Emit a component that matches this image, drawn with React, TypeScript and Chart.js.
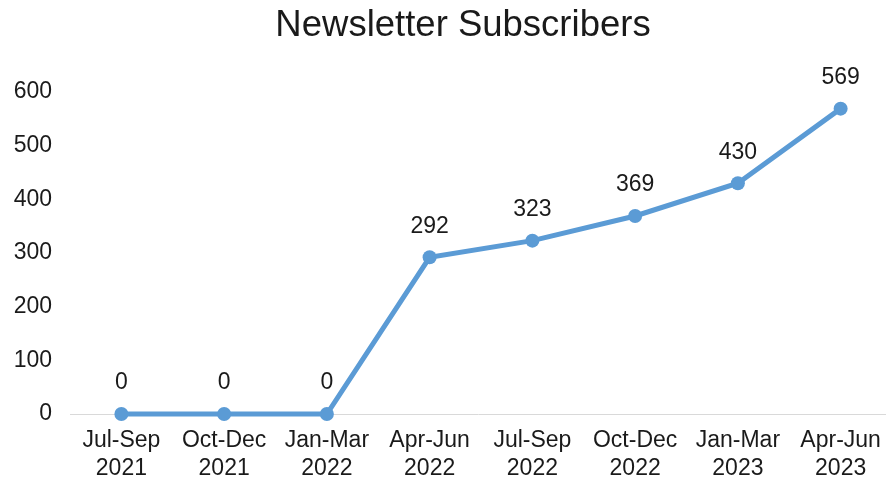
import React, { useEffect, useRef } from "react";
import { Chart, registerables } from "chart.js";

Chart.register(...registerables);

const categories: string[][] = [
  ["Jul-Sep", "2021"],
  ["Oct-Dec", "2021"],
  ["Jan-Mar", "2022"],
  ["Apr-Jun", "2022"],
  ["Jul-Sep", "2022"],
  ["Oct-Dec", "2022"],
  ["Jan-Mar", "2023"],
  ["Apr-Jun", "2023"],
];
const subscribers: number[] = [0, 0, 0, 292, 323, 369, 430, 569];
const yTicks: number[] = [0, 100, 200, 300, 400, 500, 600];
const titleText = "Newsletter Subscribers";

const FONT = "'Liberation Sans', Arial, sans-serif";
const TEXT = "#1a1a1a";
const PLOT_RIGHT = 892; // plot area runs slightly past the canvas edge, as in the reference

const dataLabels = {
  id: "dataLabels",
  afterDatasetsDraw(chart: any) {
    const ctx = chart.ctx;
    const meta = chart.getDatasetMeta(0);
    ctx.save();
    ctx.font = `23px ${FONT}`;
    ctx.fillStyle = TEXT;
    ctx.textAlign = "center";
    ctx.textBaseline = "middle";
    meta.data.forEach((pt: any, i: number) => {
      ctx.fillText(String(subscribers[i]), pt.x, pt.y - 31);
    });
    ctx.restore();
  },
};

const titlePlugin = {
  id: "customTitle",
  afterDraw(chart: any) {
    const ctx = chart.ctx;
    ctx.save();
    ctx.font = `36.5px ${FONT}`;
    ctx.fillStyle = TEXT;
    ctx.textAlign = "center";
    ctx.textBaseline = "middle";
    ctx.fillText(titleText, 463, 26);
    ctx.restore();
  },
};

const widenPlot = {
  id: "widenPlot",
  afterLayout(chart: any) {
    const x = chart.scales.x;
    x.right = PLOT_RIGHT;
    x.width = x.right - x.left;
    x.configure();
    chart.chartArea.right = PLOT_RIGHT;
    chart.chartArea.width = PLOT_RIGHT - chart.chartArea.left;
  },
};

export default function App() {
  const ref = useRef<HTMLCanvasElement>(null);
  useEffect(() => {
    document.body.style.margin = "0";
    const chart = new Chart(ref.current!, {
      type: "line",
      data: {
        labels: categories,
        datasets: [
          {
            data: subscribers,
            borderColor: "#5B9BD5",
            backgroundColor: "#5B9BD5",
            borderWidth: 5,
            pointRadius: 7,
            pointBackgroundColor: "#5B9BD5",
            pointBorderWidth: 0,
            tension: 0,
            clip: false,
          },
        ],
      },
      options: {
        animation: false,
        responsive: false,
        layout: { autoPadding: false, padding: { left: 0, right: 0, top: 92, bottom: 0 } },
        plugins: {
          legend: { display: false },
          tooltip: { enabled: false },
          title: { display: false },
        },
        scales: {
          x: {
            offset: true,
            grid: { display: false, drawTicks: false },
            border: { display: true, color: "#d9d9d9", width: 1 },
            ticks: {
              color: TEXT,
              font: { family: FONT, size: 23, lineHeight: 1.2 },
              padding: 13,
              maxRotation: 0,
              autoSkip: false,
            },
            afterFit(scale: any) {
              scale.height = 68;
              scale.paddingLeft = 0;
              scale.paddingRight = 0;
            },
          },
          y: {
            min: 0,
            max: 600,
            afterBuildTicks(scale: any) {
              scale.ticks = yTicks.map((v) => ({ value: v }));
            },
            grid: { display: false, drawTicks: false },
            border: { display: false },
            ticks: {
              color: TEXT,
              font: { family: FONT, size: 23 },
              padding: 18,
            },
            afterFit(scale: any) {
              scale.width = 70;
              scale.paddingTop = 0;
              scale.paddingBottom = 0;
            },
          },
        },
      },
      plugins: [widenPlot, dataLabels, titlePlugin],
    });
    return () => chart.destroy();
  }, []);
  return <canvas ref={ref} width={886} height={482} style={{ display: "block" }} />;
}
